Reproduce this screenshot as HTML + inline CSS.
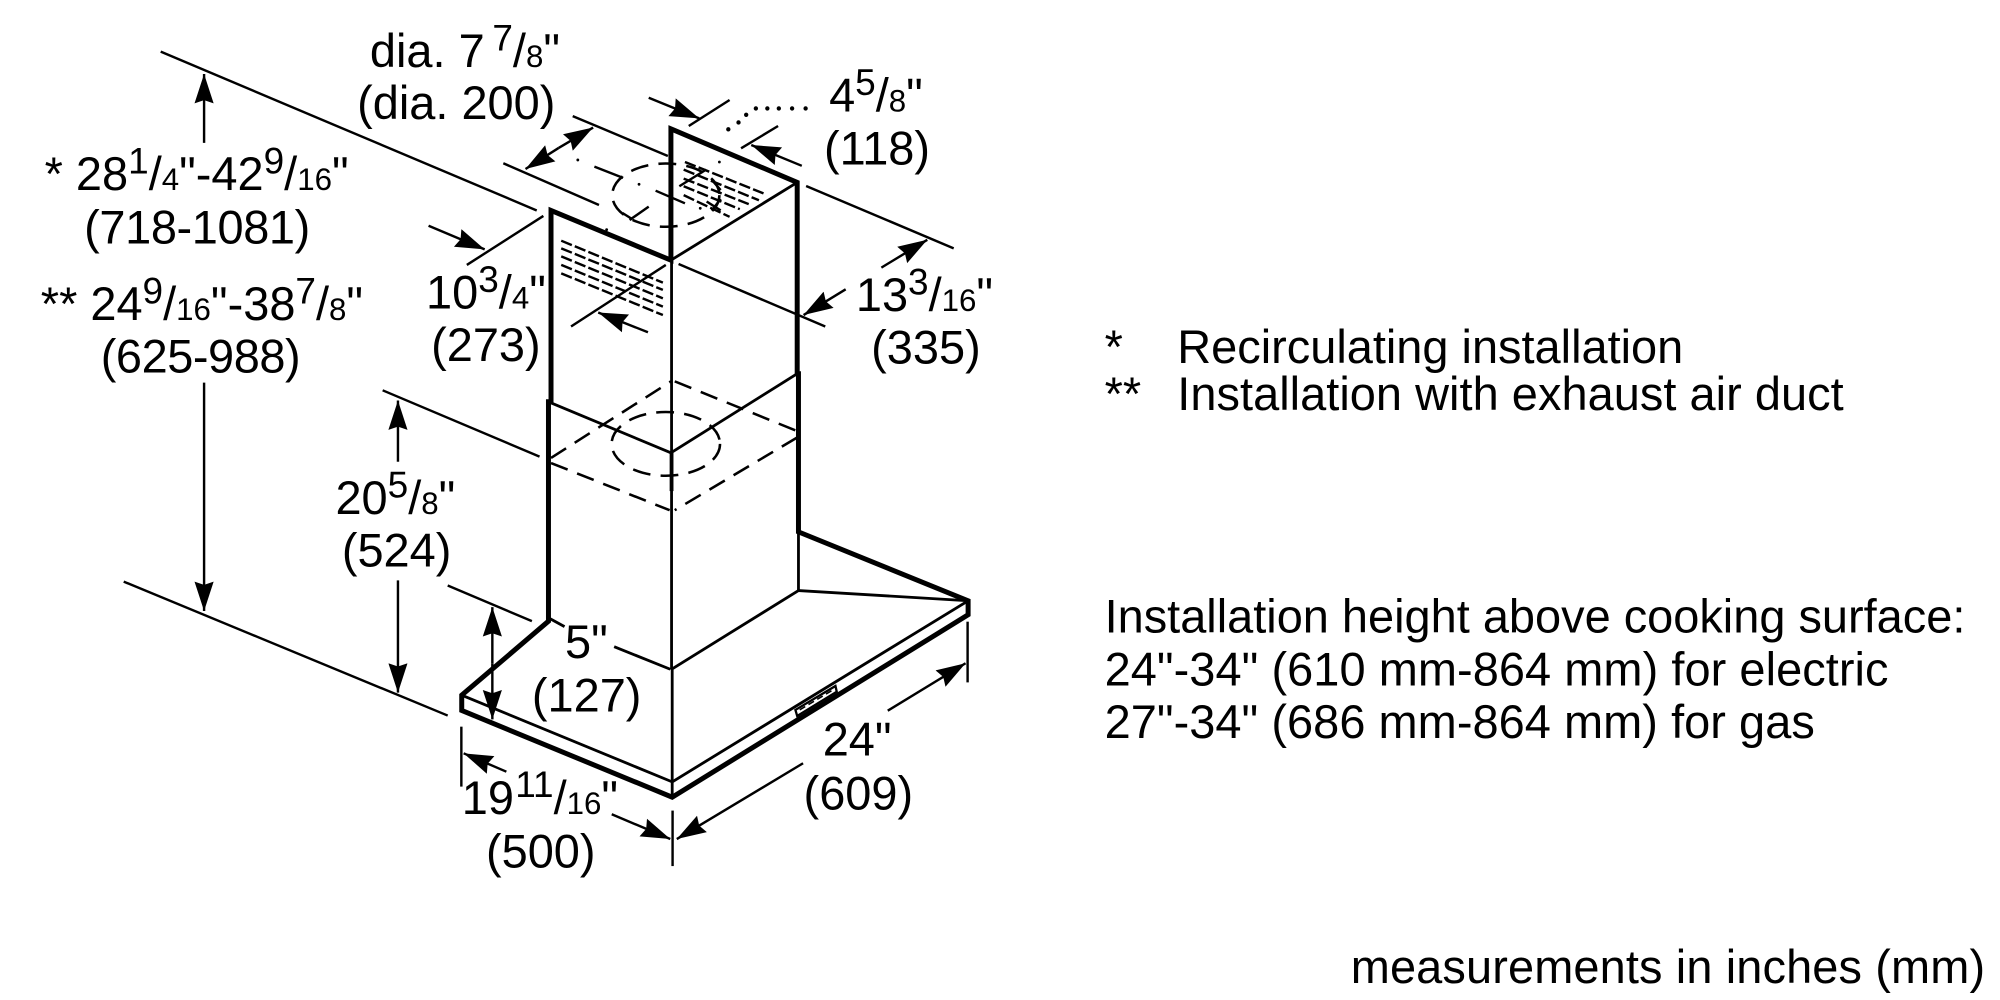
<!DOCTYPE html>
<html>
<head>
<meta charset="utf-8">
<style>
html,body{margin:0;padding:0;background:#fff;}
svg{display:block;width:2000px;height:1000px;}
text{font-family:"Liberation Sans",Arial,sans-serif;font-size:36.8px;fill:#000;}
.s{font-size:24.5px;}
.u{font-size:29px;}
.thick{stroke:#000;stroke-width:3.9;fill:none;stroke-linecap:square;stroke-linejoin:miter;}
.thin{stroke:#000;stroke-width:2.2;fill:none;}
.dim{stroke:#000;stroke-width:1.9;fill:none;}
.dash{stroke:#000;stroke-width:2;fill:none;stroke-dasharray:14 8;}
.vent{stroke:#000;stroke-width:1.9;fill:none;stroke-dasharray:9 2.5;}
.ah{stroke:#000;stroke-width:1.9;fill:none;marker-end:url(#a);}
</style>
</head>
<body>
<svg viewBox="0 0 1568 784" xmlns="http://www.w3.org/2000/svg">
<defs>
<marker id="a" markerUnits="userSpaceOnUse" markerWidth="26" markerHeight="18" refX="23" refY="9" orient="auto">
<polygon points="0,1.5 23,9 0,16.5 2.5,9" fill="#000"/>
</marker>
</defs>
<rect width="1568" height="784" fill="#fff"/>

<!-- top duct circle and centre lines -->
<ellipse class="dash" cx="522" cy="153" rx="42" ry="24.8"/>
<g class="dim">
<line x1="466" y1="130.6" x2="488.5" y2="139.5"/>
<line x1="514" y1="149.5" x2="537" y2="159.4"/>
<line x1="553.6" y1="133" x2="532.6" y2="146"/>
<line x1="508.6" y1="162" x2="493.6" y2="172.5"/>
<line x1="488" y1="167" x2="496" y2="172"/>
<line x1="558" y1="141" x2="565" y2="149"/>
<line x1="565" y1="156" x2="558" y2="165"/>
<line x1="554" y1="158" x2="565" y2="165"/>
</g>
<g fill="#000">
<circle cx="453" cy="125.4" r="1.1"/>
<circle cx="501" cy="144.5" r="1.1"/>
<circle cx="549" cy="163.3" r="1.1"/>
<circle cx="564" cy="127" r="1.1"/>
<circle cx="475.6" cy="180" r="1.1"/>
</g>
<!-- vents -->
<g class="vent">
<line x1="537" y1="127" x2="598.6" y2="151.6"/>
<line x1="536" y1="133" x2="595" y2="157"/>
<line x1="536" y1="140" x2="587" y2="160"/>
<line x1="536" y1="146" x2="580" y2="164"/>
<line x1="536" y1="153" x2="572" y2="170"/>
<line x1="440" y1="188.7" x2="519.7" y2="221.6"/>
<line x1="440" y1="194.7" x2="519.7" y2="227.3"/>
<line x1="440" y1="201" x2="519.7" y2="233.9"/>
<line x1="440" y1="207.7" x2="519.7" y2="240.4"/>
<line x1="440" y1="214.3" x2="519.7" y2="247"/>
</g>

<!-- lower dashed section -->
<line class="dash" x1="432" y1="359" x2="526" y2="299"/>
<line class="dash" x1="529" y1="299" x2="625" y2="338"/>
<line class="dash" x1="625" y1="343" x2="529" y2="400"/>
<line class="dash" x1="432" y1="363" x2="525" y2="400"/>
<ellipse class="dash" cx="522" cy="348" rx="42.5" ry="25"/>

<!-- hood thin lines -->
<g class="thin">
<line x1="526" y1="204" x2="625" y2="143"/>
<line x1="526.5" y1="204" x2="526.5" y2="525"/>
<line x1="430" y1="315" x2="526" y2="355"/>
<line x1="526" y1="355" x2="625" y2="293"/>
<line x1="526" y1="525" x2="626" y2="463"/>
<line x1="626" y1="417" x2="626" y2="463"/>
<line x1="626" y1="463" x2="759" y2="471"/>
<line x1="759" y1="471" x2="527" y2="613"/>
<line x1="362" y1="545" x2="527" y2="613"/>
<line x1="527" y1="525" x2="527" y2="625"/>
<line x1="430.6" y1="484.7" x2="442.6" y2="491.3"/>
<line x1="481.5" y1="507" x2="525.5" y2="524.7"/>
</g>
<!-- hood thick outline -->
<g class="thick">
<polyline points="432,315 432,165 526,204 526,101 625,143 625,293"/>
<polyline points="430,315 430,487 362,545 362,557 527,625 759,482 759,471 626,417 626,293"/>
</g>
<line x1="526.5" y1="355" x2="526.5" y2="385" stroke="#000" stroke-width="3"/>

<!-- control panel -->
<polygon points="623.6,556.6 655,537.8 656,542.3 625,561.3" fill="#fff" stroke="#000" stroke-width="1.8"/>
<line x1="627" y1="556.5" x2="652" y2="541.5" stroke="#000" stroke-width="1.2" stroke-dasharray="5 3"/>

<!-- extension lines -->
<g class="dim">
<line x1="126" y1="40.5" x2="420.8" y2="165"/>
<line x1="449" y1="91" x2="523.6" y2="122.3"/>
<line x1="394.6" y1="128" x2="469.6" y2="160.7"/>
<line x1="426" y1="169.3" x2="366" y2="207.7"/>
<line x1="572" y1="78.4" x2="540" y2="98.8"/>
<line x1="610" y1="98.8" x2="581" y2="116.3"/>
<line x1="632" y1="145.8" x2="747.7" y2="194.7"/>
<line x1="532" y1="207" x2="647" y2="256"/>
<line x1="522" y1="207.7" x2="447.7" y2="256"/>
<line x1="97" y1="456" x2="351" y2="561"/>
<line x1="300" y1="306" x2="423" y2="358"/>
<line x1="351" y1="459" x2="417" y2="487"/>
<line x1="361.7" y1="569.7" x2="361.7" y2="616.7"/>
<line x1="527.3" y1="635.5" x2="527.3" y2="679"/>
<line x1="758.6" y1="487.4" x2="758.6" y2="535"/>
</g>

<!-- dotted -->
<g fill="#000">
<circle cx="631.6" cy="85" r="1.7"/><circle cx="621" cy="85" r="1.7"/>
<circle cx="610.6" cy="85" r="1.7"/><circle cx="601.6" cy="85" r="1.7"/>
<circle cx="592.6" cy="85" r="1.7"/><circle cx="585" cy="90" r="1.7"/>
<circle cx="579" cy="96" r="1.7"/><circle cx="571" cy="101.4" r="1.7"/>
</g>

<!-- arrows -->
<line class="ah" x1="160" y1="112" x2="160" y2="58"/>
<line class="ah" x1="160" y1="300" x2="160" y2="479"/>
<line class="ah" x1="312" y1="362" x2="312" y2="314"/>
<line class="ah" x1="312" y1="455" x2="312" y2="543"/>
<line class="ah" x1="386" y1="520" x2="386" y2="476"/>
<line class="ah" x1="386" y1="520" x2="386" y2="564"/>
<line class="ah" x1="438" y1="116" x2="465" y2="100"/>
<line class="ah" x1="438" y1="116" x2="412" y2="132.5"/>
<line class="ah" x1="336" y1="177" x2="380" y2="195.5"/>
<line class="ah" x1="508.6" y1="76.6" x2="548.2" y2="92.8"/>
<line class="ah" x1="628.6" y1="130" x2="589" y2="113.7"/>
<line class="ah" x1="691" y1="209.8" x2="727" y2="188"/>
<line class="ah" x1="663" y1="226.8" x2="630" y2="247"/>
<line class="ah" x1="508" y1="260.5" x2="469" y2="245"/>
<line class="ah" x1="397" y1="605" x2="363.5" y2="590.6"/>
<line class="ah" x1="479.6" y1="638.4" x2="525.5" y2="657.8"/>
<line class="ah" x1="629.6" y1="598.4" x2="530.6" y2="657.8"/>
<line class="ah" x1="696" y1="557.2" x2="757" y2="520"/>

<!-- dimension labels -->
<text x="290" y="52.5">dia. 7<tspan class="u" dx="6" dy="-13">7</tspan><tspan dy="13">/</tspan><tspan class="s">8</tspan>"</text>
<text x="280" y="93.5">(dia. 200)</text>
<text x="650" y="87.5">4<tspan class="u" dy="-13">5</tspan><tspan dy="13">/</tspan><tspan class="s">8</tspan>"</text>
<text x="646" y="129">(118)</text>
<text x="35" y="149">* 28<tspan class="u" dy="-13">1</tspan><tspan dy="13">/</tspan><tspan class="s">4</tspan>"-42<tspan class="u" dy="-13">9</tspan><tspan dy="13">/</tspan><tspan class="s">16</tspan>"</text>
<text x="66" y="191" letter-spacing="-0.3">(718-1081)</text>
<text x="32" y="251">** 24<tspan class="u" dy="-13">9</tspan><tspan dy="13">/</tspan><tspan class="s">16</tspan>"-38<tspan class="u" dy="-13">7</tspan><tspan dy="13">/</tspan><tspan class="s">8</tspan>"</text>
<text x="79" y="292" letter-spacing="-0.35">(625-988)</text>
<text x="334" y="242">10<tspan class="u" dy="-13">3</tspan><tspan dy="13">/</tspan><tspan class="s">4</tspan>"</text>
<text x="338" y="283">(273)</text>
<text x="671" y="244">13<tspan class="u" dy="-13">3</tspan><tspan dy="13">/</tspan><tspan class="s">16</tspan>"</text>
<text x="683" y="285">(335)</text>
<text x="263" y="403">20<tspan class="u" dy="-13">5</tspan><tspan dy="13">/</tspan><tspan class="s">8</tspan>"</text>
<text x="268" y="444">(524)</text>
<text x="443" y="516">5"</text>
<text x="417" y="558">(127)</text>
<text x="645" y="592.5">24"</text>
<text x="630" y="634.5">(609)</text>
<text x="362" y="638">19<tspan class="u" dx="1" dy="-13">11</tspan><tspan dy="13">/</tspan><tspan class="s">16</tspan>"</text>
<text x="381" y="680">(500)</text>

<!-- notes -->
<text x="866" y="284.5">*</text>
<text x="923" y="284.5">Recirculating installation</text>
<text x="866" y="321.5">**</text>
<text x="923" y="321.5" letter-spacing="0.03">Installation with exhaust air duct</text>
<text x="866" y="496">Installation height above cooking surface:</text>
<text x="866" y="537.5" letter-spacing="0.05">24"-34" (610 mm-864 mm) for electric</text>
<text x="866" y="578.5" letter-spacing="0.04">27"-34" (686 mm-864 mm) for gas</text>
<text x="1059" y="770.5" letter-spacing="0.1">measurements in inches (mm)</text>
</svg>
</body>
</html>
